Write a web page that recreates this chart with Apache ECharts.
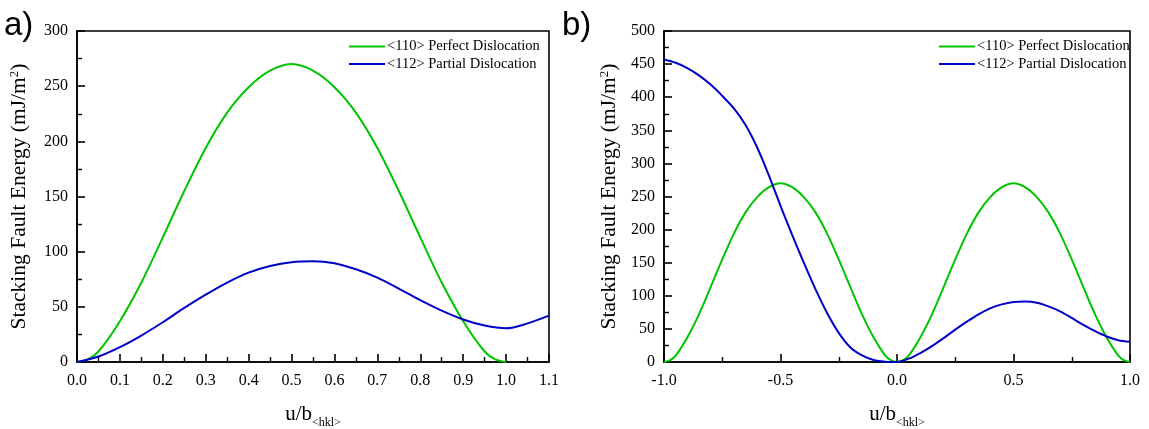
<!DOCTYPE html>
<html>
<head>
<meta charset="utf-8">
<script src="https://cdn.jsdelivr.net/npm/echarts@6/dist/echarts.min.js"></script>
<style>
html,body{margin:0;padding:0;background:#fff;}
#chart{width:1149px;height:429px;}
</style>
</head>
<body>
<div id="chart"></div>
<script>
// ---- data ----
const seriesNames = ['<110> Perfect Dislocation', '<112> Partial Dislocation'];
// panel a)
const uGreenA = [0,0.025,0.05,0.1,0.15,0.2,0.25,0.3,0.35,0.4,0.45,0.5,0.55,0.6,0.65,0.7,0.75,0.8,0.85,0.9,0.95,0.975,1.0];
const greenA  = [0,2.3,9.5,37,72,113,155,194,226,249,264,270,264,249,226,194,155,113,72,37,9.5,2.3,0];
const uBlueA  = [0,0.05,0.1,0.15,0.2,0.25,0.3,0.35,0.4,0.45,0.5,0.55,0.6,0.65,0.7,0.75,0.8,0.85,0.9,0.95,1.0,1.05,1.1];
const blueA   = [0,5,13.5,24,36,49,61,72,81,87,90.5,91.3,89.5,84,76.5,66.5,56,46.5,38.5,33,30.5,35,42];
// panel b)
const uGreenB = [-1,-0.975,-0.95,-0.9,-0.85,-0.8,-0.75,-0.7,-0.65,-0.6,-0.55,-0.5,-0.45,-0.4,-0.35,-0.3,-0.25,-0.2,-0.15,-0.1,-0.05,-0.025,0,
                 0.025,0.05,0.1,0.15,0.2,0.25,0.3,0.35,0.4,0.45,0.5,0.55,0.6,0.65,0.7,0.75,0.8,0.85,0.9,0.95,0.975,1.0];
const greenB  = [0,2.3,9.5,37,72,113,155,194,226,249,264,270,264,249,226,194,155,113,72,37,9.5,2.3,0,
                 2.3,9.5,37,72,113,155,194,226,249,264,270,264,249,226,194,155,113,72,37,9.5,2.3,0];
const uBlueB  = [-1,-0.95,-0.9,-0.85,-0.8,-0.75,-0.7,-0.65,-0.6,-0.55,-0.5,-0.45,-0.4,-0.35,-0.3,-0.25,-0.2,-0.15,-0.1,-0.05,0,
                 0.05,0.1,0.15,0.2,0.25,0.3,0.35,0.4,0.45,0.5,0.55,0.6,0.65,0.7,0.75,0.8,0.85,0.9,0.95,1.0];
const blueB   = [457,452,444,433,419,402,383,358,324,282,236,192,150,110,74,44,22,10,3,0.5,0,
                 5,13.5,24,36,49,61,72,81,87,90.5,91.3,89.5,84,76.5,66.5,56,46.5,38.5,33,30.5];
// ticks
const xTicksA = {min:0, max:1.1, interval:0.1};
const yTicksA = {min:0, max:300, interval:50};
const xTicksB = {min:-1, max:1, interval:0.5};
const yTicksB = {min:0, max:500, interval:50};

const GREEN = '#00c400';
const BLUE = '#0000c8';
const SERIF = '"Liberation Serif","Times New Roman",serif';

function pairs(xs, ys){ return ys.map((y,i)=>[xs[i], y]); }

function xAxis(idx, t){
  return {
    type:'value', gridIndex: idx, min:t.min, max:t.max, interval:t.interval,
    axisLine:{show:true, onZero:false, lineStyle:{color:'#000', width:1.6}},
    axisTick:{show:true, inside:true, length:8, lineStyle:{color:'#000', width:1.6}},
    minorTick:{show:true, splitNumber:2, length:5, lineStyle:{color:'#000', width:1.4}},
    splitLine:{show:false},
    axisLabel:{color:'#000', fontFamily:SERIF, fontSize:16, margin:11,
               formatter:(v)=>v.toFixed(1)},
    name:'u/b{sub|<hkl>}', nameLocation:'middle', nameGap:37,
    nameTextStyle:{color:'#000', fontFamily:SERIF, fontSize:21,
      rich:{sub:{fontFamily:SERIF, fontSize:12, color:'#000', padding:[18,0,0,0]}}}
  };
}
function yAxis(idx, t, gap){
  return {
    type:'value', gridIndex: idx, min:t.min, max:t.max, interval:t.interval,
    axisLine:{show:true, onZero:false, lineStyle:{color:'#000', width:1.6}},
    axisTick:{show:true, inside:true, length:8, lineStyle:{color:'#000', width:1.6}},
    minorTick:{show:true, splitNumber:2, length:5, lineStyle:{color:'#000', width:1.4}},
    splitLine:{show:false},
    axisLabel:{color:'#000', fontFamily:SERIF, fontSize:16, margin:9},
    name:'Stacking Fault Energy (mJ/m{sup|2})', nameLocation:'middle', nameGap:gap,
    nameTextStyle:{color:'#000', fontFamily:SERIF, fontSize:21.5,
      rich:{sup:{fontFamily:SERIF, fontSize:13, color:'#000', verticalAlign:'top'}}}
  };
}
function line(name, x, y, color, xi, yi){
  return {type:'line', name:name, xAxisIndex:xi, yAxisIndex:yi, data:pairs(x,y),
          smooth:0.3, symbol:'none', lineStyle:{color:color, width:2}, itemStyle:{color:color},
          z:3, animation:false};
}
function legend(left){
  return {show:true, orient:'vertical', left:left, top:34, icon:'rect', itemWidth:36, itemHeight:2, itemGap:2.5,
          data:seriesNames, selectedMode:false,
          textStyle:{color:'#000', fontFamily:SERIF, fontSize:14.5, padding:[0,0,0,-3]}};
}

const chart = echarts.init(document.getElementById('chart'));
chart.setOption({
  backgroundColor:'#fff',
  animation:false,
  grid:[
    {left:77, top:31, width:472, height:331, outerBoundsMode:'none', containLabel:false,
     show:true, borderColor:'#000', borderWidth:1.6, backgroundColor:'transparent'},
    {left:664, top:31, width:466, height:331, outerBoundsMode:'none', containLabel:false,
     show:true, borderColor:'#000', borderWidth:1.6, backgroundColor:'transparent'}
  ],
  legend:[legend(344), legend(934)],
  xAxis:[xAxis(0, xTicksA), xAxis(1, xTicksB)],
  yAxis:[yAxis(0, yTicksA, 47), yAxis(1, yTicksB, 44)],
  series:[
    line(seriesNames[0], uGreenA, greenA, GREEN, 0, 0),
    line(seriesNames[1], uBlueA, blueA, BLUE, 0, 0),
    line(seriesNames[0], uGreenB, greenB, GREEN, 1, 1),
    line(seriesNames[1], uBlueB, blueB, BLUE, 1, 1)
  ],
  graphic:[
    {type:'text', left:4, top:9, style:{text:'a)', font:'33px "Liberation Sans", Arial, sans-serif', fill:'#000'}},
    {type:'text', left:562, top:9, style:{text:'b)', font:'33px "Liberation Sans", Arial, sans-serif', fill:'#000'}}
  ]
});
</script>
</body>
</html>
